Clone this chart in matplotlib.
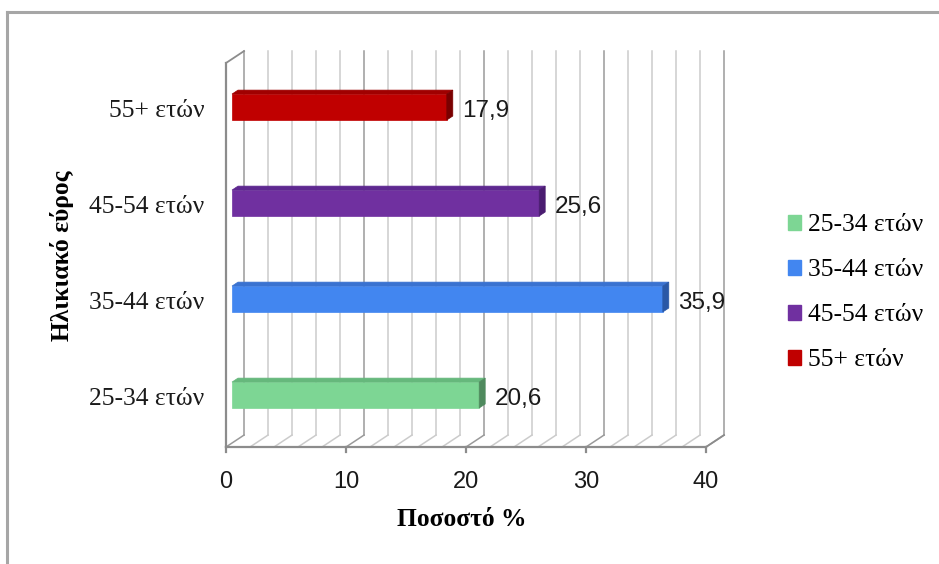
import matplotlib
matplotlib.use("Agg")
import matplotlib.pyplot as plt
from matplotlib.patches import Polygon, Patch
from matplotlib.lines import Line2D

# data
categories = ["25-34 ετών", "35-44 ετών", "45-54 ετών", "55+ ετών"]
values = [20.6, 35.9, 25.6, 17.9]
face_colors = ["#7DD694", "#4286F0", "#7030A0", "#C00000"]
top_colors = ["#66B87C", "#3A72D0", "#5E2890", "#A00000"]
side_colors = ["#4F8A5E", "#2A58A6", "#4A1C70", "#7A0000"]
xticks = [0, 10, 20, 30, 40]

SERIF = "Liberation Serif"
SANS = "Liberation Sans"

# 3d look: depth offset of the back wall in data units
DX = 1.5
DY = 0.124
BAR_H = 0.27
YMIN, YMAX = -0.5, 3.5
XMAX = 40

fig = plt.figure(figsize=(9.39, 5.64), dpi=100)
ax = fig.add_axes([226 / 939, (564 - 447) / 564, 480 / 939, 384 / 564])
ax.set_xlim(0, XMAX)
ax.set_ylim(YMIN, YMAX)
ax.axis("off")

grid_light = "#CBCBCB"
grid_dark = "#9A9A9A"
axis_col = "#8C8C8C"

# back wall and floor grid
for x in range(0, XMAX + 1, 2):
    col = grid_dark if x % 10 == 0 else grid_light
    ax.plot([x + DX, x + DX], [YMIN + DY, YMAX + DY], color=col, lw=1.1,
            clip_on=False, zorder=1)
    ax.plot([x, x + DX], [YMIN, YMIN + DY], color=col, lw=1.1,
            clip_on=False, zorder=1)

# front axes lines
ax.plot([0, 0], [YMIN, YMAX], color=axis_col, lw=1.6, clip_on=False, zorder=2)
ax.plot([0, DX], [YMAX, YMAX + DY], color=axis_col, lw=1.3, clip_on=False, zorder=2)
ax.plot([0, XMAX], [YMIN, YMIN], color=axis_col, lw=1.6, clip_on=False, zorder=2)
ax.plot([XMAX, XMAX + DX], [YMIN, YMIN + DY], color=axis_col, lw=1.3,
        clip_on=False, zorder=2)
for t in xticks:
    ax.plot([t, t], [YMIN, YMIN - 0.055], color=axis_col, lw=1.6,
            clip_on=False, zorder=2)
    ax.text(t, YMIN - 0.36, str(t), ha="center", va="center",
            fontsize=17, family=SANS, color="#1A1A1A")

# bars
for i, (v, fc, tc, sc) in enumerate(zip(values, face_colors, top_colors, side_colors)):
    x0 = DX / 3
    x1 = v + DX / 3
    bot = i + DY / 3 - BAR_H / 2
    top = i + DY / 3 + BAR_H / 2
    ddx, ddy = DX / 3, DY / 3
    front = Polygon([(x0, bot), (x1, bot), (x1, top), (x0, top)],
                    closed=True, facecolor=fc, edgecolor=fc, lw=0.5,
                    clip_on=False, zorder=3)
    topf = Polygon([(x0, top), (x1, top), (x1 + ddx, top + ddy), (x0 + ddx, top + ddy)],
                   closed=True, facecolor=tc, edgecolor=tc, lw=0.5,
                   clip_on=False, zorder=3)
    side = Polygon([(x1, bot), (x1 + ddx, bot + ddy), (x1 + ddx, top + ddy), (x1, top)],
                   closed=True, facecolor=sc, edgecolor=sc, lw=0.5,
                   clip_on=False, zorder=3)
    for p in (front, topf, side):
        ax.add_patch(p)
    ax.text(v + 1.8, i + 0.0, f"{v:.1f}".replace(".", ","), ha="left",
            va="center", fontsize=17.5, family=SANS, color="#1A1A1A", zorder=4)
    ax.text(-1.8, i, categories[i], ha="right", va="center", fontsize=18.4,
            family=SERIF, color="#1A1A1A")

# axis titles
fig.text(462 / 939, 1 - 519 / 564, "Ποσοστό %", ha="center", va="center",
         fontsize=18.4, family=SERIF, fontweight="bold")
fig.text(62 / 939, 1 - 256 / 564, "Ηλικιακό εύρος", ha="center", va="center",
         rotation=90, fontsize=18.4, family=SERIF, fontweight="bold")

# legend
handles = [Patch(facecolor=c, edgecolor=c) for c in face_colors]
leg = fig.legend(handles, categories, loc="center left",
                 bbox_to_anchor=(788 / 939, 1 - 293 / 564), frameon=False,
                 borderpad=0, borderaxespad=0,
                 handlelength=0.5, handleheight=0.5, handletextpad=0.3,
                 labelspacing=0.9, prop={"family": SERIF, "size": 18.4})

# outer border (top and left visible)
fig.add_artist(Line2D([7 / 939, 1], [1 - 12 / 564, 1 - 12 / 564],
                      transform=fig.transFigure, color="#A6A6A6", lw=2.2))
fig.add_artist(Line2D([7 / 939, 7 / 939], [0, 1 - 12 / 564],
                      transform=fig.transFigure, color="#A6A6A6", lw=2.2))

fig.savefig("out.png", dpi=100)
